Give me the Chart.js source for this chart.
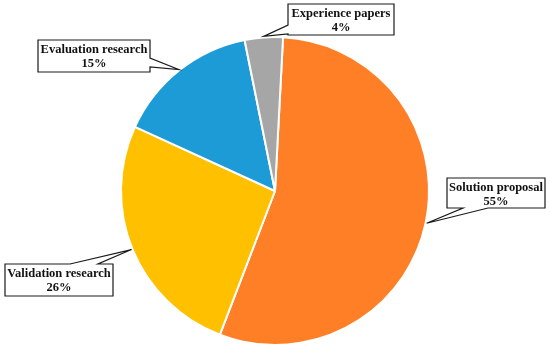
<!DOCTYPE html>
<html>
<head>
<meta charset="utf-8">
<script src="https://cdn.jsdelivr.net/npm/chart.js@4"></script>
<style>
  html, body { margin:0; padding:0; background:#fff; }
  #wrap { width:550px; height:351px; position:relative; }
</style>
</head>
<body>
<div id="wrap"><canvas id="pieChart" width="550" height="351"></canvas></div>
<script>
/* === DATA === */
const categories = ["Solution proposal", "Validation research", "Evaluation research", "Experience papers"];
const shares = [55, 26, 15, 4];
const sliceColors = ["#FF7F27", "#FFC000", "#1D9BD7", "#A6A6A6"];

/* === CALLOUT BOXES (layout only) === */
const callouts = [
  {x:447, y:178, w:98,  h:30, side:"bottom", a:463, b:488},
  {x:5,   y:264, w:108, h:32, side:"top",    a:70,  b:98},
  {x:38,  y:40,  w:112, h:32, side:"right",  a:58,  b:67},
  {x:288, y:4,   w:106, h:31, side:"left",   a:25,  b:34}
];

function boxPath(ctx, c, tip){
  const L = c.x, T = c.y, R = c.x + c.w, B = c.y + c.h;
  let pts;
  if(c.side === "top") pts = [[L,T],[c.a,T],tip,[c.b,T],[R,T],[R,B],[L,B]];
  else if(c.side === "right") pts = [[L,T],[R,T],[R,c.a],tip,[R,c.b],[R,B],[L,B]];
  else if(c.side === "bottom") pts = [[L,T],[R,T],[R,B],[c.b,B],tip,[c.a,B],[L,B]];
  else pts = [[L,T],[R,T],[R,B],[L,B],[L,c.b],tip,[L,c.a]];
  ctx.beginPath();
  ctx.moveTo(pts[0][0], pts[0][1]);
  for(let i = 1; i < pts.length; i++) ctx.lineTo(pts[i][0], pts[i][1]);
  ctx.closePath();
}

const calloutPlugin = {
  id: "callouts",
  afterDraw(chart){
    const ctx = chart.ctx;
    const arcs = chart.getDatasetMeta(0).data;
    ctx.save();
    arcs.forEach((arc, i) => {
      const c = callouts[i];
      const mid = (arc.startAngle + arc.endAngle) / 2;
      const r = arc.outerRadius + 1;
      const tip = [arc.x + Math.cos(mid) * r, arc.y + Math.sin(mid) * r];
      boxPath(ctx, c, tip);
      ctx.fillStyle = "#fff";
      ctx.fill();
      ctx.lineWidth = 1.2;
      ctx.strokeStyle = "#1a1a1a";
      ctx.stroke();
      ctx.fillStyle = "#111";
      ctx.font = "bold 12.5px 'Liberation Serif', 'Times New Roman', serif";
      ctx.textAlign = "center";
      ctx.textBaseline = "middle";
      const cx = c.x + c.w / 2;
      ctx.fillText(categories[i], cx, c.y + 10);
      ctx.fillText(shares[i] + "%", cx, c.y + 24);
    });
    ctx.restore();
  }
};

/* === PIE === */
const pieChart = new Chart(document.getElementById("pieChart").getContext("2d"), {
  type: "pie",
  data: {
    labels: categories,
    datasets: [{
      data: shares,
      backgroundColor: sliceColors,
      borderColor: "#fff",
      borderWidth: 2,
      hoverOffset: 0
    }]
  },
  options: {
    responsive: false,
    animation: false,
    rotation: 3,
    radius: 154,
    layout: { padding: { top: 31, bottom: 0, left: 0, right: 0 } },
    plugins: { legend: { display: false }, tooltip: { enabled: false } },
    events: []
  },
  plugins: [calloutPlugin]
});
</script>
</body>
</html>
